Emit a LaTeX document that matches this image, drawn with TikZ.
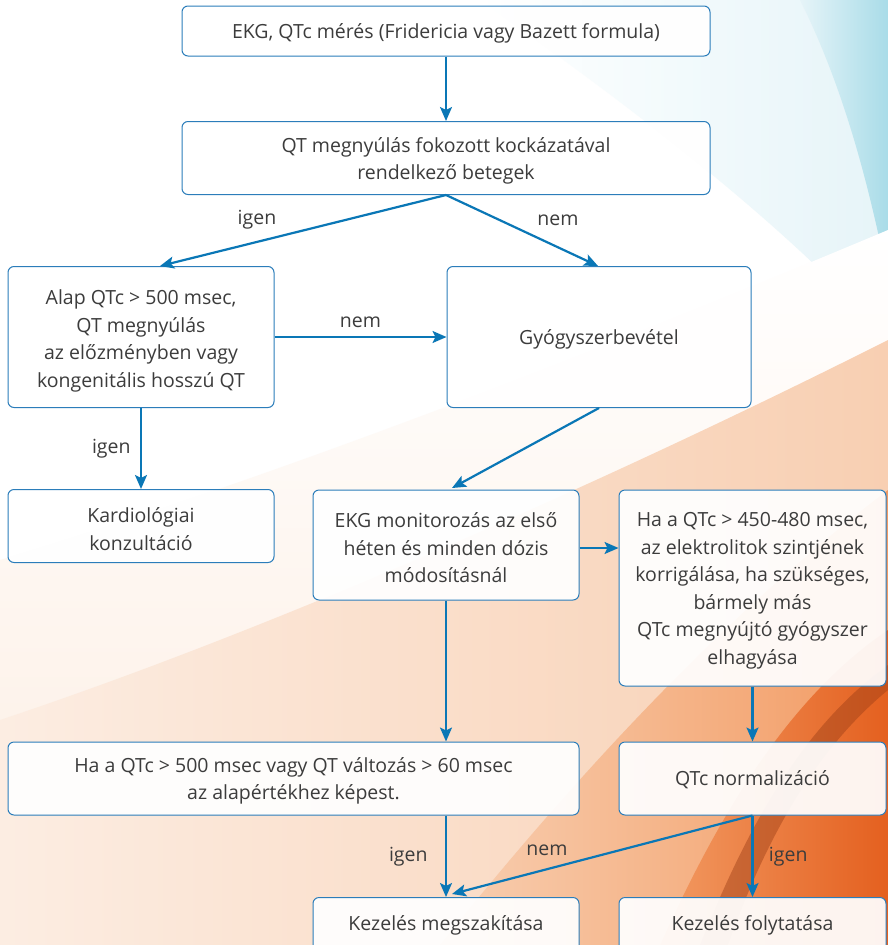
\documentclass[tikz,border=0pt]{standalone}
\usepackage{fontspec}
\setmainfont{Open Sans}
\usepackage[HTML]{xcolor}
\usetikzlibrary{positioning, arrows, arrows.meta}

\definecolor{flowblue}{HTML}{0A77B6}
\definecolor{boxblue}{HTML}{2B7DBA}
\definecolor{textgray}{HTML}{3C3C3C}
\definecolor{skyA}{HTML}{E6F4F8}
\definecolor{skyB}{HTML}{A9DCE8}
\definecolor{peachA}{HTML}{FCEDE2}
\definecolor{peachB}{HTML}{F8CFB2}
\definecolor{orangeA}{HTML}{F29A62}
\definecolor{orangeB}{HTML}{E4601F}
\definecolor{rust}{HTML}{9C3E16}

\begin{document}
\begin{tikzpicture}[x=1pt, y=-1pt,
  box/.style={draw=boxblue, line width=1pt, rounded corners=6pt, fill=white,
    fill opacity=0.93, text opacity=1, text=textgray, align=center,
    inner sep=0pt, font=\fontsize{19.5}{27.5}\selectfont},
  txt/.style={text=textgray, align=center, inner sep=0pt,
    font=\fontsize{19.5}{27.5}\selectfont},
  arr/.style={draw=flowblue, line width=2.2pt,
    -{Stealth[length=14pt, width=12pt, inset=3pt]}},
  lbl/.style={text=textgray, font=\fontsize{19.5}{22}\selectfont}]

% background
\useasboundingbox (0,0) rectangle (888,945);
\fill[white] (0,0) rectangle (888,945);
\shade[left color=white, right color=skyA] (480,0) .. controls (650,120) and (790,230) .. (888,340) -- (888,0) -- cycle;
\shade[left color=skyA, right color=skyB] (800,0) .. controls (845,90) and (870,190) .. (888,280) -- (888,0) -- cycle;
\shade[top color=white, bottom color=peachA] (0,560) .. controls (300,470) and (650,330) .. (888,230) -- (888,945) -- (0,945) -- cycle;
\shade[left color=peachA, right color=peachB] (0,720) .. controls (300,620) and (650,460) .. (888,340) -- (888,945) -- (0,945) -- cycle;
\shade[left color=peachB, right color=orangeA] (440,945) .. controls (580,770) and (730,610) .. (888,490) -- (888,945) -- cycle;
\shade[left color=orangeA, right color=orangeB] (660,945) .. controls (730,790) and (800,690) .. (888,630) -- (888,945) -- cycle;
\fill[rust, opacity=0.45] (700,945) .. controls (750,820) and (805,725) .. (888,665) -- (888,690) .. controls (815,750) and (765,840) .. (728,945) -- cycle;

% boxes
\node[box, minimum width=528pt, minimum height=50pt] (EKG) at (446,31) {};
\node[box, minimum width=528pt, minimum height=73pt] (risk) at (446,158) {};
\node[box, minimum width=266pt, minimum height=141pt] (alap) at (141,337) {};
\node[box, minimum width=304pt, minimum height=141pt] (drug) at (599,337) {};
\node[box, minimum width=266pt, minimum height=73pt] (kardio) at (141,526) {};
\node[box, minimum width=266pt, minimum height=110pt] (monitor) at (446,545) {};
\node[box, minimum width=267pt, minimum height=196pt] (elektro) at (752.5,588) {};
\node[box, minimum width=571pt, minimum height=73pt] (limit) at (293.5,778.5) {};
\node[box, minimum width=267pt, minimum height=73pt] (norm) at (752.5,778.5) {};
\node[box, minimum width=266pt, minimum height=70pt, anchor=north] (stop) at (446,897) {};
\node[box, minimum width=267pt, minimum height=70pt, anchor=north] (cont) at (752.5,897) {};

% box texts
\node[txt] (EKGtxt) at (446,33) {EKG, QTc mérés (Fridericia vagy Bazett formula)};
\node[txt] (risktxt) at (446,161) {QT megnyúlás fokozott kockázatával\\rendelkező betegek};
\node[txt] (alaptxt) at (141,341) {Alap QTc > 500 msec,\\QT megnyúlás\\az előzményben vagy\\kongenitális hosszú QT};
\node[txt] (drugtxt) at (599,339) {Gyógyszerbevétel};
\node[txt] (kardiotxt) at (141,529) {Kardiológiai\\konzultáció};
\node[txt] (monitortxt) at (446,548) {EKG monitorozás az első\\héten és minden dózis\\módosításnál};
\node[txt] (elektrotxt) at (752.5,591) {Ha a QTc > 450-480 msec,\\az elektrolitok szintjének\\korrigálása, ha szükséges,\\bármely más\\QTc megnyújtó gyógyszer\\elhagyása};
\node[txt] (limittxt) at (293.5,781) {Ha a QTc > 500 msec vagy QT változás > 60 msec\\az alapértékhez képest.};
\node[txt] (normtxt) at (752.5,780) {QTc normalizáció};
\node[txt] (stoptxt) at (446,925) {Kezelés megszakítása};
\node[txt] (conttxt) at (752.5,925) {Kezelés folytatása};

% connectors
\draw[arr] (EKG) -- (risk);
\draw[arr] (risk.south) -- (160,266);
\draw[arr] (risk.south) -- (598,266);
\node[lbl] (igen1) at (257,220) {igen};
\node[lbl] (nem1) at (558,220) {nem};
\draw[arr] (alap) -- node[lbl, above=5pt] {nem} (drug);
\draw[arr] (alap) -- node[lbl, left=6pt] {igen} (kardio);
\draw[arr] (drug.south) -- (452,488);
\draw[arr] (monitor.east |- 0,548) -- (elektro.west |- 0,548);
\draw[arr] (monitor) -- (monitor |- limit.north);
\draw[arr] (elektro) -- (norm);
\draw[arr] (limit.south -| stop) -- node[lbl, left=14pt] {igen} (stop);
\draw[arr] (norm.south) -- (452,894);
\draw[arr] (norm) -- node[lbl, right=12pt] {igen} (cont);
\node[lbl] (nem2) at (547,850) {nem};
\end{tikzpicture}
\end{document}
